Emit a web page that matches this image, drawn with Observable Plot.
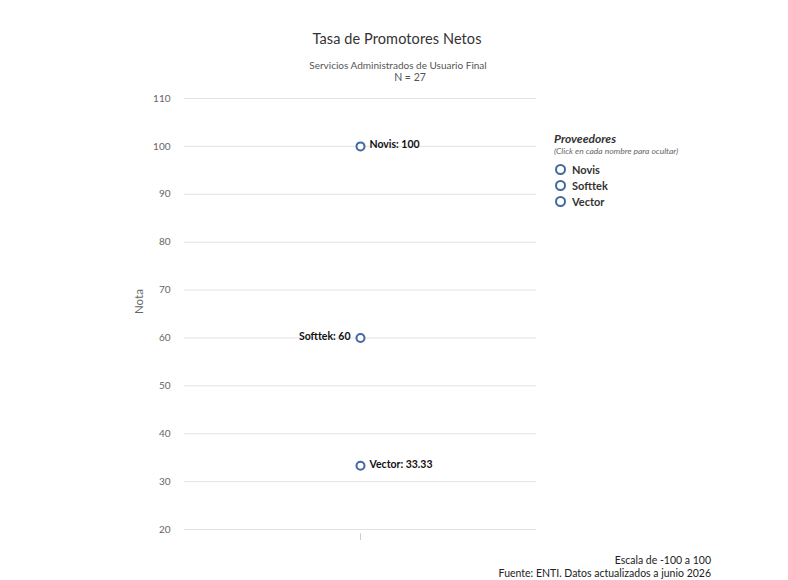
<!DOCTYPE html>
<html>
<head>
<meta charset="utf-8">
<script src="https://cdn.jsdelivr.net/npm/d3@7"></script>
<script src="https://cdn.jsdelivr.net/npm/@observablehq/plot@0.6"></script>
<style>
  html, body { margin: 0; padding: 0; background: #ffffff; }
  body { width: 788px; height: 580px; overflow: hidden; font-family: Lato, "Open Sans", sans-serif; }
  #wrap { position: relative; width: 788px; height: 580px; }
  #chart { position: absolute; left: 0; top: 0; }
  .title { position: absolute; left: 0; width: 794px; text-align: center; top: 30px; font-size: 14.5px; color: #333; letter-spacing: 0.1px; }
  .sub { position: absolute; left: 0; width: 796px; text-align: center; top: 59px; font-size: 10px; line-height: 12px; color: #555; }
  .sub2 { position: absolute; left: 0; width: 820px; text-align: center; top: 71px; font-size: 10.5px; line-height: 12px; color: #555; }
  .legend { position: absolute; left: 554px; top: 131px; color: #333; }
  .legend .lt { font-weight: bold; font-style: italic; font-size: 12px; line-height: 15px; }
  .legend .ls { font-style: italic; font-size: 8.5px; line-height: 11px; color: #666; margin-top: 0px; }
  .legend .it { display: flex; align-items: center; font-weight: bold; font-size: 11px; height: 16px; margin-left: 1px; }
  .legend .dot { width: 7px; height: 7px; border: 2px solid #41699e; border-radius: 50%; background: #fff; margin-right: 6px; }
  .caption { position: absolute; right: 77px; top: 554px; text-align: right; font-size: 10.5px; line-height: 13px; color: #222; }
</style>
</head>
<body>
<div id="wrap">
  <div id="chart"></div>
  <div class="title">Tasa de Promotores Netos</div>
  <div class="sub">Servicios Administrados de Usuario Final</div>
  <div class="sub2">N = 27</div>
  <div class="legend" id="legend">
    <div class="lt">Proveedores</div>
    <div class="ls">(Click en cada nombre para ocultar)</div>
  </div>
  <div class="caption">Escala de -100 a 100<br>Fuente: ENTI. Datos actualizados a junio 2026</div>
</div>
<script>
const providers = ["Novis", "Softtek", "Vector"];
const scores = [100, 60, 33.33];
const labelSide = ["right", "left", "right"];
const yTicks = [20, 30, 40, 50, 60, 70, 80, 90, 100, 110];
const category = "NPS";

const data = providers.map((p, i) => ({ provider: p, score: scores[i], side: labelSide[i], cat: category }));
const color = "#41699e";

const chart = Plot.plot({
  width: 788,
  height: 580,
  marginLeft: 184,
  marginRight: 252,
  marginTop: 98,
  marginBottom: 51,
  style: { fontFamily: "Lato, sans-serif", background: "transparent" },
  x: { type: "point", domain: [category], axis: null },
  y: { domain: [20, 110], axis: null },
  marks: [
    Plot.gridY(yTicks, { stroke: "#e3e3e3", strokeOpacity: 1 }),
    Plot.axisY(yTicks, { tickSize: 0, tickPadding: 14, fontSize: 10, fill: "#666", label: null }),
    Plot.text(["Nota"], { frameAnchor: "left", dx: -45, rotate: -90, fontSize: 11.5, fill: "#666" }),
    Plot.ruleX([category], { x: d => d, y1: 19.1, y2: 17.7, stroke: "#ccc" }),
    Plot.dot(data, { x: "cat", y: "score", r: 4, stroke: color, strokeWidth: 2, fill: "#fff" }),
    Plot.text(data.filter(d => d.side === "right"), { x: "cat", y: "score", text: d => `${d.provider}: ${d.score}`, textAnchor: "start", dx: 9, dy: -1.5, fontWeight: "bold", fontSize: 10.5, fill: "#111" }),
    Plot.text(data.filter(d => d.side === "left"), { x: "cat", y: "score", text: d => `${d.provider}: ${d.score}`, textAnchor: "end", dx: -10, dy: -1.5, fontWeight: "bold", fontSize: 10.5, fill: "#111" })
  ]
});
document.getElementById("chart").appendChild(chart);

const legend = document.getElementById("legend");
providers.forEach((p, i) => {
  const it = document.createElement("div");
  it.className = "it";
  if (i === 0) it.style.marginTop = "4px";
  const dot = document.createElement("span");
  dot.className = "dot";
  it.appendChild(dot);
  it.appendChild(document.createTextNode(p));
  legend.appendChild(it);
});
</script>
</body>
</html>
